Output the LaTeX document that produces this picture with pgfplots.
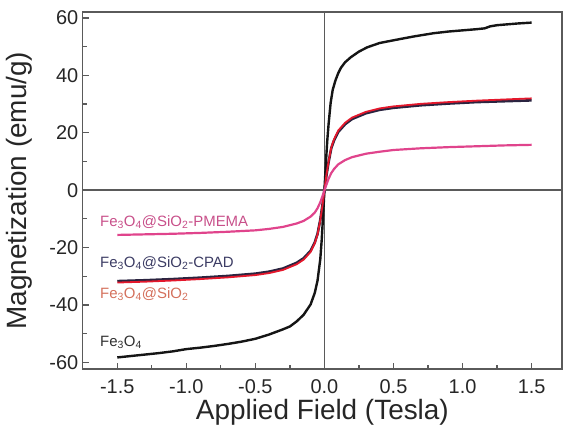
\documentclass[border=0pt]{standalone}
\usepackage{fontspec}
\setmainfont{Liberation Sans}
\usepackage{pgfplots}
\pgfplotsset{compat=1.18}

\definecolor{frame}{HTML}{5A5A5A}
\definecolor{bare}{HTML}{151515}
\definecolor{cpad}{HTML}{2A2440}
\definecolor{sio}{HTML}{E4182C}
\definecolor{pmema}{HTML}{E0448C}
\definecolor{tpmema}{HTML}{C8508A}
\definecolor{tcpad}{HTML}{3C3C64}
\definecolor{tsio}{HTML}{D4705C}
\definecolor{tbare}{HTML}{303030}

\newcommand{\sub}[1]{\textsubscript{#1}}

\begin{document}
\begin{tikzpicture}
\useasboundingbox (-82.7bp,-62bp) rectangle (481bp,369bp);
\begin{axis}[
  at={(0,0)}, anchor=south west,
  scale only axis, width=479bp, height=357bp,
  xmin=-1.75, xmax=1.72, ymin=-62.4, ymax=62.1,
  axis line style={frame, line width=1.4bp},
  xtick={-1.5,-1,...,1.5}, ytick={-60,-40,...,60},
  minor x tick num=1, minor y tick num=1,
  xtick pos=left, ytick pos=left, tick align=inside,
  major tick length=6bp, minor tick length=4bp,
  tick style={frame, line width=1.2bp},
  /pgf/number format/assume math mode=true,
  ticklabel style={font=\fontsize{20}{23}\selectfont, text=black!85},
  xticklabel style={yshift=-7bp, /pgf/number format/.cd, fixed, fixed zerofill, precision=1, /tikz/.cd},
  yticklabel style={xshift=-1bp},
  xlabel={Applied Field (Tesla)}, ylabel={Magnetization (emu/g)},
  every axis x label/.style={at={(axis description cs:0.5,-0.122)}, anchor=center,
    font=\fontsize{28}{32}\selectfont, text=black!85},
  every axis y label/.style={at={(axis description cs:-0.1315,0.5)}, rotate=90, anchor=center,
    font=\fontsize{28}{32}\selectfont, text=black!85},
  clip=false,
]
\draw[frame, line width=1.7bp] (axis cs:0,-62.4) -- (axis cs:0,62.1);
\draw[frame, line width=1.7bp] (axis cs:-1.75,0) -- (axis cs:1.72,0);

% Fe3O4
\addplot[bare, line width=2.4bp] coordinates {
  (-1.5,-58.3) (-1.4,-57.8) (-1.3,-57.3) (-1.2,-56.8) (-1.1,-56.2) (-1.0,-55.4)
  (-0.9,-54.9) (-0.8,-54.3) (-0.7,-53.6) (-0.6,-52.8) (-0.5,-51.8) (-0.4,-50.3)
  (-0.3,-48.5) (-0.25,-47.5) (-0.2,-45.7) (-0.15,-43.4) (-0.1,-39.8) (-0.07,-35.8)
  (-0.05,-31.5) (-0.03,-24) (-0.02,-17.5) (-0.01,-9) (0,0)
  (0.01,9) (0.02,17) (0.03,23) (0.045,30.5) (0.06,35) (0.08,38.3) (0.1,40.8) (0.12,42.7)
  (0.15,44.6) (0.19,46.3) (0.25,48.3) (0.31,49.8) (0.4,51.3) (0.55,52.7)
  (0.65,53.6) (0.79,54.7) (0.9,55.3) (1.0,55.7) (1.1,56.1) (1.16,56.4)
  (1.2,57.1) (1.25,57.5) (1.3,57.7) (1.4,58.1) (1.5,58.4)
};
% Fe3O4@SiO2-CPAD
\addplot[cpad, line width=2.6bp] coordinates {
  (-1.5,-31.7) (-1.3,-31.4) (-1.1,-31.0) (-0.9,-30.5) (-0.7,-29.9) (-0.5,-29.1)
  (-0.4,-28.4) (-0.3,-27.3) (-0.2,-25.3) (-0.15,-23.7) (-0.1,-21.1) (-0.07,-18.2)
  (-0.05,-15.2) (-0.03,-10.3) (-0.015,-5.4) (0,0)
  (0.015,5.3) (0.03,9.8) (0.05,14.7) (0.07,17.4) (0.1,20.3) (0.15,23.0)
  (0.2,24.8) (0.3,26.8) (0.4,28.0) (0.5,28.7) (0.7,29.6) (0.9,30.2)
  (1.1,30.7) (1.3,31.0) (1.5,31.3)
};
% Fe3O4@SiO2
\addplot[sio, line width=1.8bp] coordinates {
  (-1.5,-32.2) (-1.3,-31.9) (-1.1,-31.5) (-0.9,-31.0) (-0.7,-30.4) (-0.5,-29.6)
  (-0.4,-28.9) (-0.3,-27.8) (-0.2,-25.8) (-0.15,-24.2) (-0.1,-21.5) (-0.07,-18.5)
  (-0.05,-15.5) (-0.03,-10.5) (-0.015,-5.5) (0,0)
  (0.015,5.5) (0.03,10) (0.05,15) (0.07,17.8) (0.1,20.8) (0.15,23.5)
  (0.2,25.3) (0.3,27.3) (0.4,28.5) (0.5,29.2) (0.7,30.1) (0.9,30.7)
  (1.1,31.2) (1.3,31.6) (1.5,32.0)
};
% Fe3O4@SiO2-PMEMA
\addplot[pmema, line width=2.2bp] coordinates {
  (-1.5,-15.6) (-1.3,-15.4) (-1.1,-15.2) (-0.9,-14.9) (-0.7,-14.5) (-0.5,-14.0)
  (-0.4,-13.5) (-0.3,-12.8) (-0.2,-11.6) (-0.15,-10.7) (-0.1,-9.2) (-0.07,-7.8)
  (-0.05,-6.3) (-0.03,-4.2) (-0.015,-2.2) (0,0)
  (0.015,2) (0.03,4) (0.05,6) (0.07,7.4) (0.1,9) (0.15,10.5)
  (0.2,11.5) (0.3,12.7) (0.4,13.4) (0.5,14) (0.7,14.6) (0.9,15.0)
  (1.1,15.3) (1.3,15.6) (1.5,15.8)
};

\begin{scope}[every node/.style={anchor=west, inner sep=0pt, font=\fontsize{15}{18}\selectfont}]
\node[text=tpmema] at (axis cs:-1.625,-11.1) {Fe\sub{3}O\sub{4}@SiO\sub{2}-PMEMA};
\node[text=tcpad]  at (axis cs:-1.625,-25.4) {Fe\sub{3}O\sub{4}@SiO\sub{2}-CPAD};
\node[text=tsio]   at (axis cs:-1.625,-36.3) {Fe\sub{3}O\sub{4}@SiO\sub{2}};
\node[text=tbare]  at (axis cs:-1.625,-53.0) {Fe\sub{3}O\sub{4}};
\end{scope}
\end{axis}
\end{tikzpicture}
\end{document}
